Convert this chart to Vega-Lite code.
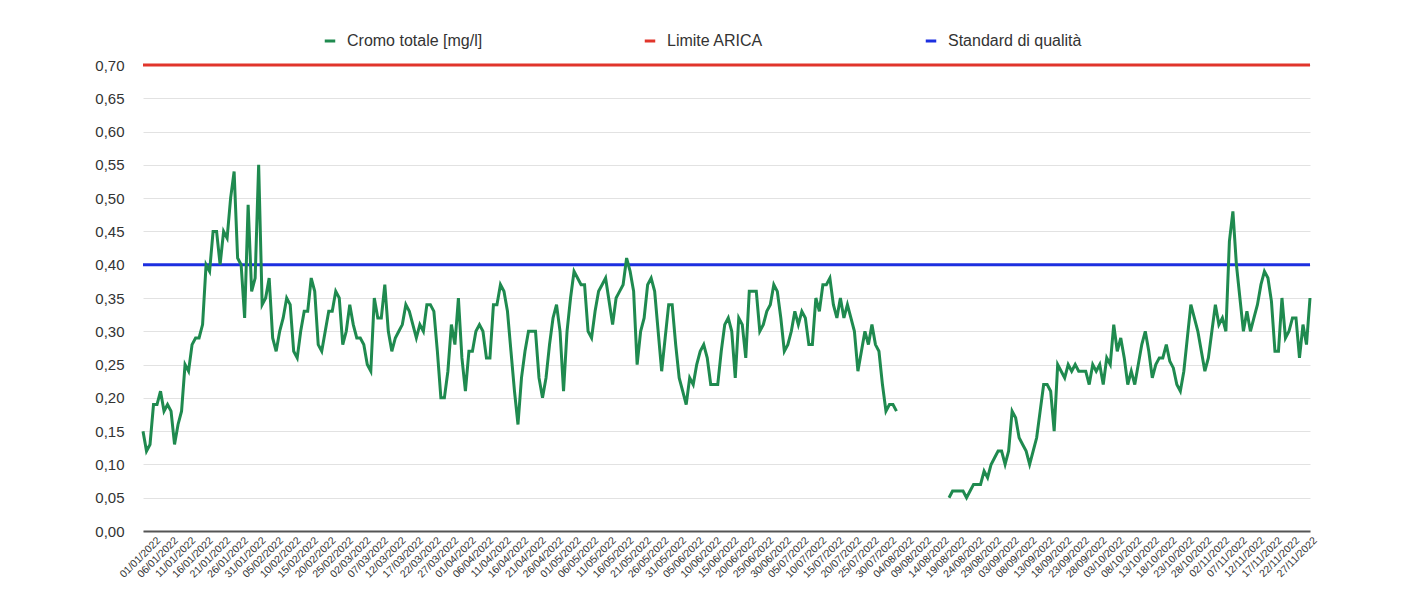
{
  "$schema": "https://vega.github.io/schema/vega-lite/v6.json",
  "width": 1167,
  "height": 466,
  "autosize": {"type": "none"},
  "padding": {"left": 143, "top": 65, "right": 93, "bottom": 68},
  "background": "white",
  "config": {
    "locale": {"number": {"decimal": ",", "thousands": ".", "grouping": [3], "currency": ["€", ""]}},
    "font": "Liberation Sans",
    "view": {"stroke": null},
    "axisY": {
      "title": null,
      "values": [0, 0.05, 0.1, 0.15, 0.2, 0.25, 0.3, 0.35, 0.4, 0.45, 0.5, 0.55, 0.6, 0.65, 0.7],
      "format": ".2f",
      "labelFontSize": 15,
      "labelColor": "#333333",
      "labelPadding": 19,
      "labelOverlap": false,
      "ticks": false,
      "domain": false,
      "grid": true,
      "gridColor": "#e2e2e2",
      "gridWidth": 1
    }
  },
  "datasets": {
    "cromo": [
      {"data":"01/01/2022","cr":0.15},{"data":"02/01/2022","cr":0.12},{"data":"03/01/2022","cr":0.13},{"data":"04/01/2022","cr":0.19},{"data":"05/01/2022","cr":0.19},{"data":"06/01/2022","cr":0.21},{"data":"07/01/2022","cr":0.18},{"data":"08/01/2022","cr":0.19},{"data":"09/01/2022","cr":0.18},{"data":"10/01/2022","cr":0.13},{"data":"11/01/2022","cr":0.16},{"data":"12/01/2022","cr":0.18},{"data":"13/01/2022","cr":0.25},{"data":"14/01/2022","cr":0.24},{"data":"15/01/2022","cr":0.28},{"data":"16/01/2022","cr":0.29},{"data":"17/01/2022","cr":0.29},{"data":"18/01/2022","cr":0.31},{"data":"19/01/2022","cr":0.40},{"data":"20/01/2022","cr":0.39},{"data":"21/01/2022","cr":0.45},{"data":"22/01/2022","cr":0.45},{"data":"23/01/2022","cr":0.40},{"data":"24/01/2022","cr":0.45},{"data":"25/01/2022","cr":0.44},{"data":"26/01/2022","cr":0.50},{"data":"27/01/2022","cr":0.54},{"data":"28/01/2022","cr":0.41},{"data":"29/01/2022","cr":0.40},{"data":"30/01/2022","cr":0.32},{"data":"31/01/2022","cr":0.49},
      {"data":"01/02/2022","cr":0.36},{"data":"02/02/2022","cr":0.38},{"data":"03/02/2022","cr":0.55},{"data":"04/02/2022","cr":0.34},{"data":"05/02/2022","cr":0.35},{"data":"06/02/2022","cr":0.38},{"data":"07/02/2022","cr":0.29},{"data":"08/02/2022","cr":0.27},{"data":"09/02/2022","cr":0.30},{"data":"10/02/2022","cr":0.32},{"data":"11/02/2022","cr":0.35},{"data":"12/02/2022","cr":0.34},{"data":"13/02/2022","cr":0.27},{"data":"14/02/2022","cr":0.26},{"data":"15/02/2022","cr":0.30},{"data":"16/02/2022","cr":0.33},{"data":"17/02/2022","cr":0.33},{"data":"18/02/2022","cr":0.38},{"data":"19/02/2022","cr":0.36},{"data":"20/02/2022","cr":0.28},{"data":"21/02/2022","cr":0.27},{"data":"22/02/2022","cr":0.30},{"data":"23/02/2022","cr":0.33},{"data":"24/02/2022","cr":0.33},{"data":"25/02/2022","cr":0.36},{"data":"26/02/2022","cr":0.35},{"data":"27/02/2022","cr":0.28},{"data":"28/02/2022","cr":0.30},
      {"data":"01/03/2022","cr":0.34},{"data":"02/03/2022","cr":0.31},{"data":"03/03/2022","cr":0.29},{"data":"04/03/2022","cr":0.29},{"data":"05/03/2022","cr":0.28},{"data":"06/03/2022","cr":0.25},{"data":"07/03/2022","cr":0.24},{"data":"08/03/2022","cr":0.35},{"data":"09/03/2022","cr":0.32},{"data":"10/03/2022","cr":0.32},{"data":"11/03/2022","cr":0.37},{"data":"12/03/2022","cr":0.30},{"data":"13/03/2022","cr":0.27},{"data":"14/03/2022","cr":0.29},{"data":"15/03/2022","cr":0.30},{"data":"16/03/2022","cr":0.31},{"data":"17/03/2022","cr":0.34},{"data":"18/03/2022","cr":0.33},{"data":"19/03/2022","cr":0.31},{"data":"20/03/2022","cr":0.29},{"data":"21/03/2022","cr":0.31},{"data":"22/03/2022","cr":0.30},{"data":"23/03/2022","cr":0.34},{"data":"24/03/2022","cr":0.34},{"data":"25/03/2022","cr":0.33},{"data":"26/03/2022","cr":0.27},{"data":"27/03/2022","cr":0.20},{"data":"28/03/2022","cr":0.20},{"data":"29/03/2022","cr":0.24},{"data":"30/03/2022","cr":0.31},{"data":"31/03/2022","cr":0.28},
      {"data":"01/04/2022","cr":0.35},{"data":"02/04/2022","cr":0.26},{"data":"03/04/2022","cr":0.21},{"data":"04/04/2022","cr":0.27},{"data":"05/04/2022","cr":0.27},{"data":"06/04/2022","cr":0.30},{"data":"07/04/2022","cr":0.31},{"data":"08/04/2022","cr":0.30},{"data":"09/04/2022","cr":0.26},{"data":"10/04/2022","cr":0.26},{"data":"11/04/2022","cr":0.34},{"data":"12/04/2022","cr":0.34},{"data":"13/04/2022","cr":0.37},{"data":"14/04/2022","cr":0.36},{"data":"15/04/2022","cr":0.33},{"data":"16/04/2022","cr":0.27},{"data":"17/04/2022","cr":0.21},{"data":"18/04/2022","cr":0.16},{"data":"19/04/2022","cr":0.23},{"data":"20/04/2022","cr":0.27},{"data":"21/04/2022","cr":0.30},{"data":"22/04/2022","cr":0.30},{"data":"23/04/2022","cr":0.30},{"data":"24/04/2022","cr":0.23},{"data":"25/04/2022","cr":0.20},{"data":"26/04/2022","cr":0.23},{"data":"27/04/2022","cr":0.28},{"data":"28/04/2022","cr":0.32},{"data":"29/04/2022","cr":0.34},{"data":"30/04/2022","cr":0.30},
      {"data":"01/05/2022","cr":0.21},{"data":"02/05/2022","cr":0.30},{"data":"03/05/2022","cr":0.35},{"data":"04/05/2022","cr":0.39},{"data":"05/05/2022","cr":0.38},{"data":"06/05/2022","cr":0.37},{"data":"07/05/2022","cr":0.37},{"data":"08/05/2022","cr":0.30},{"data":"09/05/2022","cr":0.29},{"data":"10/05/2022","cr":0.33},{"data":"11/05/2022","cr":0.36},{"data":"12/05/2022","cr":0.37},{"data":"13/05/2022","cr":0.38},{"data":"14/05/2022","cr":0.345},{"data":"15/05/2022","cr":0.31},{"data":"16/05/2022","cr":0.35},{"data":"17/05/2022","cr":0.36},{"data":"18/05/2022","cr":0.37},{"data":"19/05/2022","cr":0.41},{"data":"20/05/2022","cr":0.39},{"data":"21/05/2022","cr":0.36},{"data":"22/05/2022","cr":0.25},{"data":"23/05/2022","cr":0.30},{"data":"24/05/2022","cr":0.32},{"data":"25/05/2022","cr":0.37},{"data":"26/05/2022","cr":0.38},{"data":"27/05/2022","cr":0.36},{"data":"28/05/2022","cr":0.30},{"data":"29/05/2022","cr":0.24},{"data":"30/05/2022","cr":0.29},{"data":"31/05/2022","cr":0.34},
      {"data":"01/06/2022","cr":0.34},{"data":"02/06/2022","cr":0.28},{"data":"03/06/2022","cr":0.23},{"data":"04/06/2022","cr":0.21},{"data":"05/06/2022","cr":0.19},{"data":"06/06/2022","cr":0.23},{"data":"07/06/2022","cr":0.22},{"data":"08/06/2022","cr":0.25},{"data":"09/06/2022","cr":0.27},{"data":"10/06/2022","cr":0.28},{"data":"11/06/2022","cr":0.26},{"data":"12/06/2022","cr":0.22},{"data":"13/06/2022","cr":0.22},{"data":"14/06/2022","cr":0.22},{"data":"15/06/2022","cr":0.27},{"data":"16/06/2022","cr":0.31},{"data":"17/06/2022","cr":0.32},{"data":"18/06/2022","cr":0.30},{"data":"19/06/2022","cr":0.23},{"data":"20/06/2022","cr":0.32},{"data":"21/06/2022","cr":0.31},{"data":"22/06/2022","cr":0.26},{"data":"23/06/2022","cr":0.36},{"data":"24/06/2022","cr":0.36},{"data":"25/06/2022","cr":0.36},{"data":"26/06/2022","cr":0.30},{"data":"27/06/2022","cr":0.31},{"data":"28/06/2022","cr":0.33},{"data":"29/06/2022","cr":0.34},{"data":"30/06/2022","cr":0.37},
      {"data":"01/07/2022","cr":0.36},{"data":"02/07/2022","cr":0.32},{"data":"03/07/2022","cr":0.27},{"data":"04/07/2022","cr":0.28},{"data":"05/07/2022","cr":0.30},{"data":"06/07/2022","cr":0.33},{"data":"07/07/2022","cr":0.31},{"data":"08/07/2022","cr":0.33},{"data":"09/07/2022","cr":0.32},{"data":"10/07/2022","cr":0.28},{"data":"11/07/2022","cr":0.28},{"data":"12/07/2022","cr":0.35},{"data":"13/07/2022","cr":0.33},{"data":"14/07/2022","cr":0.37},{"data":"15/07/2022","cr":0.37},{"data":"16/07/2022","cr":0.38},{"data":"17/07/2022","cr":0.34},{"data":"18/07/2022","cr":0.32},{"data":"19/07/2022","cr":0.35},{"data":"20/07/2022","cr":0.32},{"data":"21/07/2022","cr":0.34},{"data":"22/07/2022","cr":0.32},{"data":"23/07/2022","cr":0.30},{"data":"24/07/2022","cr":0.24},{"data":"25/07/2022","cr":0.27},{"data":"26/07/2022","cr":0.30},{"data":"27/07/2022","cr":0.28},{"data":"28/07/2022","cr":0.31},{"data":"29/07/2022","cr":0.28},{"data":"30/07/2022","cr":0.27},{"data":"31/07/2022","cr":0.22},
      {"data":"01/08/2022","cr":0.18},{"data":"02/08/2022","cr":0.19},{"data":"03/08/2022","cr":0.19},{"data":"04/08/2022","cr":0.18},{"data":"05/08/2022","cr":null},{"data":"06/08/2022","cr":null},{"data":"07/08/2022","cr":null},{"data":"08/08/2022","cr":null},{"data":"09/08/2022","cr":null},{"data":"10/08/2022","cr":null},{"data":"11/08/2022","cr":null},{"data":"12/08/2022","cr":null},{"data":"13/08/2022","cr":null},{"data":"14/08/2022","cr":null},{"data":"15/08/2022","cr":null},{"data":"16/08/2022","cr":null},{"data":"17/08/2022","cr":null},{"data":"18/08/2022","cr":null},{"data":"19/08/2022","cr":0.05},{"data":"20/08/2022","cr":0.06},{"data":"21/08/2022","cr":0.06},{"data":"22/08/2022","cr":0.06},{"data":"23/08/2022","cr":0.06},{"data":"24/08/2022","cr":0.05},{"data":"25/08/2022","cr":0.06},{"data":"26/08/2022","cr":0.07},{"data":"27/08/2022","cr":0.07},{"data":"28/08/2022","cr":0.07},{"data":"29/08/2022","cr":0.09},{"data":"30/08/2022","cr":0.08},{"data":"31/08/2022","cr":0.10},
      {"data":"01/09/2022","cr":0.11},{"data":"02/09/2022","cr":0.12},{"data":"03/09/2022","cr":0.12},{"data":"04/09/2022","cr":0.10},{"data":"05/09/2022","cr":0.12},{"data":"06/09/2022","cr":0.18},{"data":"07/09/2022","cr":0.17},{"data":"08/09/2022","cr":0.14},{"data":"09/09/2022","cr":0.13},{"data":"10/09/2022","cr":0.12},{"data":"11/09/2022","cr":0.10},{"data":"12/09/2022","cr":0.12},{"data":"13/09/2022","cr":0.14},{"data":"14/09/2022","cr":0.18},{"data":"15/09/2022","cr":0.22},{"data":"16/09/2022","cr":0.22},{"data":"17/09/2022","cr":0.21},{"data":"18/09/2022","cr":0.15},{"data":"19/09/2022","cr":0.25},{"data":"20/09/2022","cr":0.24},{"data":"21/09/2022","cr":0.23},{"data":"22/09/2022","cr":0.25},{"data":"23/09/2022","cr":0.24},{"data":"24/09/2022","cr":0.25},{"data":"25/09/2022","cr":0.24},{"data":"26/09/2022","cr":0.24},{"data":"27/09/2022","cr":0.24},{"data":"28/09/2022","cr":0.22},{"data":"29/09/2022","cr":0.25},{"data":"30/09/2022","cr":0.24},
      {"data":"01/10/2022","cr":0.25},{"data":"02/10/2022","cr":0.22},{"data":"03/10/2022","cr":0.26},{"data":"04/10/2022","cr":0.25},{"data":"05/10/2022","cr":0.31},{"data":"06/10/2022","cr":0.27},{"data":"07/10/2022","cr":0.29},{"data":"08/10/2022","cr":0.26},{"data":"09/10/2022","cr":0.22},{"data":"10/10/2022","cr":0.24},{"data":"11/10/2022","cr":0.22},{"data":"12/10/2022","cr":0.25},{"data":"13/10/2022","cr":0.28},{"data":"14/10/2022","cr":0.30},{"data":"15/10/2022","cr":0.27},{"data":"16/10/2022","cr":0.23},{"data":"17/10/2022","cr":0.25},{"data":"18/10/2022","cr":0.26},{"data":"19/10/2022","cr":0.26},{"data":"20/10/2022","cr":0.28},{"data":"21/10/2022","cr":0.255},{"data":"22/10/2022","cr":0.245},{"data":"23/10/2022","cr":0.22},{"data":"24/10/2022","cr":0.21},{"data":"25/10/2022","cr":0.24},{"data":"26/10/2022","cr":0.29},{"data":"27/10/2022","cr":0.34},{"data":"28/10/2022","cr":0.32},{"data":"29/10/2022","cr":0.30},{"data":"30/10/2022","cr":0.27},{"data":"31/10/2022","cr":0.24},
      {"data":"01/11/2022","cr":0.26},{"data":"02/11/2022","cr":0.30},{"data":"03/11/2022","cr":0.34},{"data":"04/11/2022","cr":0.31},{"data":"05/11/2022","cr":0.32},{"data":"06/11/2022","cr":0.30},{"data":"07/11/2022","cr":0.435},{"data":"08/11/2022","cr":0.48},{"data":"09/11/2022","cr":0.40},{"data":"10/11/2022","cr":0.35},{"data":"11/11/2022","cr":0.30},{"data":"12/11/2022","cr":0.33},{"data":"13/11/2022","cr":0.30},{"data":"14/11/2022","cr":0.32},{"data":"15/11/2022","cr":0.34},{"data":"16/11/2022","cr":0.37},{"data":"17/11/2022","cr":0.39},{"data":"18/11/2022","cr":0.38},{"data":"19/11/2022","cr":0.345},{"data":"20/11/2022","cr":0.27},{"data":"21/11/2022","cr":0.27},{"data":"22/11/2022","cr":0.35},{"data":"23/11/2022","cr":0.29},{"data":"24/11/2022","cr":0.30},{"data":"25/11/2022","cr":0.32},{"data":"26/11/2022","cr":0.32},{"data":"27/11/2022","cr":0.26},{"data":"28/11/2022","cr":0.31},{"data":"29/11/2022","cr":0.28},{"data":"30/11/2022","cr":0.35}
    ],
    "soglie": [
      {"serie": "Limite ARICA", "valore": 0.70},
      {"serie": "Standard di qualità", "valore": 0.40}
    ]
  },
  "layer": [
    {
      "data": {"name": "soglie"},
      "mark": {"type": "rule", "strokeWidth": 3},
      "encoding": {
        "y": {"field": "valore", "type": "quantitative", "title": null, "scale": {"domain": [0, 0.7], "nice": false, "zero": true}},
        "color": {
          "field": "serie", "type": "nominal", "title": null,
          "scale": {
            "domain": ["Cromo totale [mg/l]", "Limite ARICA", "Standard di qualità"],
            "range": ["#1f8a4f", "#e1352b", "#1c2fe0"]
          },
          "legend": {
            "title": null,
            "orient": "none",
            "legendX": 179,
            "legendY": -32,
            "direction": "horizontal",
            "symbolType": "stroke",
            "symbolSize": 110,
            "symbolStrokeWidth": 3,
            "labelFontSize": 16,
            "labelColor": "#333333",
            "labelOffset": 9,
            "columnPadding": 155
          }
        }
      }
    },
    {
      "data": {"name": "cromo"},
      "mark": {"type": "line", "strokeWidth": 3, "invalid": "break-paths-show-domains"},
      "encoding": {
        "x": {
          "field": "data", "type": "ordinal", "sort": null,
          "scale": {"type": "point", "padding": 0},
          "axis": {
            "title": null,
            "values": ["01/01/2022","06/01/2022","11/01/2022","16/01/2022","21/01/2022","26/01/2022","31/01/2022","05/02/2022","10/02/2022","15/02/2022","20/02/2022","25/02/2022","02/03/2022","07/03/2022","12/03/2022","17/03/2022","22/03/2022","27/03/2022","01/04/2022","06/04/2022","11/04/2022","16/04/2022","21/04/2022","26/04/2022","01/05/2022","06/05/2022","11/05/2022","16/05/2022","21/05/2022","26/05/2022","31/05/2022","05/06/2022","10/06/2022","15/06/2022","20/06/2022","25/06/2022","30/06/2022","05/07/2022","10/07/2022","15/07/2022","20/07/2022","25/07/2022","30/07/2022","04/08/2022","09/08/2022","14/08/2022","19/08/2022","24/08/2022","29/08/2022","03/09/2022","08/09/2022","13/09/2022","18/09/2022","23/09/2022","28/09/2022","03/10/2022","08/10/2022","13/10/2022","18/10/2022","23/10/2022","28/10/2022","02/11/2022","07/11/2022","12/11/2022","17/11/2022","22/11/2022","27/11/2022"],
            "labelAngle": -45,
            "labelFontSize": 10.5,
            "labelColor": "#333333",
            "labelOverlap": false,
            "labelPadding": 4,
            "labelOffset": 12,
            "ticks": false,
            "grid": false,
            "domainColor": "#555555",
            "domainWidth": 2
          }
        },
        "y": {"field": "cr", "type": "quantitative", "title": null},
        "color": {"datum": "Cromo totale [mg/l]", "type": "nominal"}
      }
    }
  ]
}
